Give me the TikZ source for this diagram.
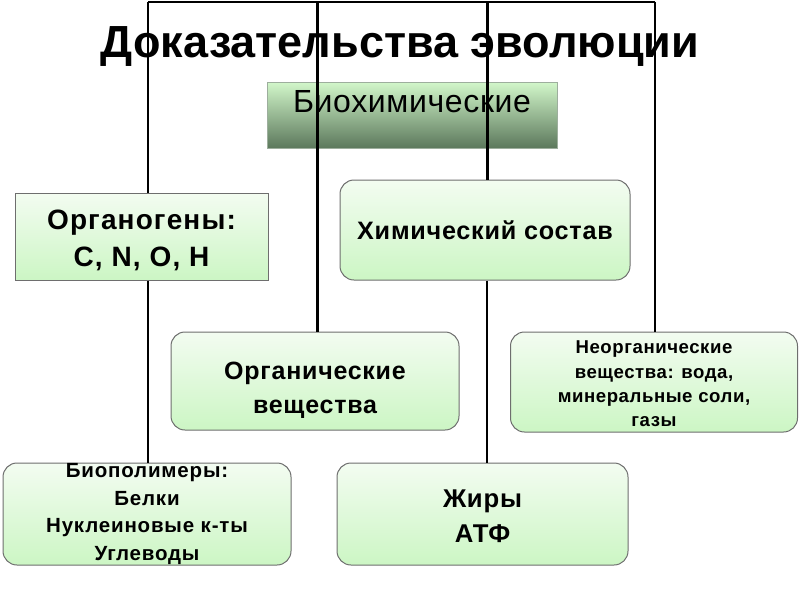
\documentclass[tikz,border=0pt]{standalone}
\usepackage{fontspec}
\setmainfont{Liberation Sans}
\definecolor{bordergray}{HTML}{6E6E6E}
\definecolor{gtop}{HTML}{F3FCF1}
\definecolor{gbot}{HTML}{CCF6C4}
\definecolor{htop}{HTML}{D2F7CA}
\definecolor{hbot}{HTML}{5C785C}
\tikzset{
  gbox/.style={draw=bordergray, line width=1pt, rounded corners=14pt, top color=gtop, bottom color=gbot, inner sep=0pt},
  sqbox/.style={draw=bordergray, line width=1pt, top color=gtop, bottom color=gbot, inner sep=0pt},
  boxtext/.style={align=center, inner sep=0pt},
  thinline/.style={line width=2pt, black},
  thickline/.style={line width=3pt, black},
}
\newcommand{\spaced}{\addfontfeature{LetterSpace=3}}
\newcommand{\spacedmore}{\addfontfeature{LetterSpace=4}}
\begin{document}
\begin{tikzpicture}[x=1pt,y=-1pt]
\useasboundingbox (0,0) rectangle (800,600);
% header box
\node[draw=hbot!60!white, line width=0.6pt, top color=htop, bottom color=hbot, minimum width=290pt, minimum height=66pt, inner sep=0pt] (biochem) at (412,115) {};
\node[font=\fontsize{32}{36}\selectfont\addfontfeature{LetterSpace=2}, anchor=base] (biochemtxt) at (412,112) {Биохимические};
% connector origins along the top
\coordinate (c1) at (148,1.5);
\coordinate (c2) at (317,1.5);
\coordinate (c3) at (487,1.5);
\coordinate (c4) at (655,1.5);
% boxes
\node[sqbox, minimum width=253pt, minimum height=87pt] (organogen) at (141.5,236.5) {};
\node[gbox, minimum width=290pt, minimum height=100pt] (chem) at (485,230) {};
\node[gbox, minimum width=288pt, minimum height=98pt] (organic) at (315,381) {};
\node[gbox, minimum width=287pt, minimum height=100pt] (inorganic) at (654,382) {};
\node[gbox, minimum width=288pt, minimum height=102pt] (biopol) at (147,514) {};
\node[gbox, minimum width=291pt, minimum height=102pt] (fats) at (482.5,514) {};
% tree lines
\draw[thinline] (c1) -- (c4);
\draw[thinline] (c1) -- (c1 |- organogen.north);
\draw[thinline] (c1 |- organogen.south) -- (c1 |- biopol.north);
\draw[thickline] (c2) -- (c2 |- organic.north);
\draw[thickline] (c3) -- (c3 |- chem.north);
\draw[line width=2.5pt] (c3 |- chem.south) -- (c3 |- fats.north);
\draw[thinline] (c4) -- (c4 |- inorganic.north);
% title
\node[font=\fontsize{45}{52}\selectfont\bfseries, anchor=base] (title) at (400,57) {Доказательства эволюции};
% box texts
\node[boxtext, font=\fontsize{28}{37}\selectfont\bfseries\spacedmore] (organogen-t) at (141.5,240) {Органогены:\\C, N, O, H};
\node[boxtext, font=\fontsize{25.2}{30}\selectfont\bfseries\spaced] (chem-t) at (485,230) {Химический состав};
\node[boxtext, font=\fontsize{25}{34}\selectfont\bfseries\spaced] (organic-t) at (315,390) {Органические\\вещества};
\node[boxtext, font=\fontsize{18.6}{24.3}\selectfont\bfseries\spaced] (inorganic-t) at (654,384) {Неорганические\\вещества: вода,\\минеральные соли,\\газы};
\node[boxtext, font=\fontsize{20.5}{27.5}\selectfont\bfseries\spacedmore] (biopol-t) at (147,514) {Биополимеры:\\Белки\\Нуклеиновые к-ты\\Углеводы};
\node[boxtext, font=\fontsize{25.7}{35}\selectfont\bfseries\spaced] (fats-t) at (482.5,516) {Жиры\\АТФ};
\end{tikzpicture}
\end{document}
